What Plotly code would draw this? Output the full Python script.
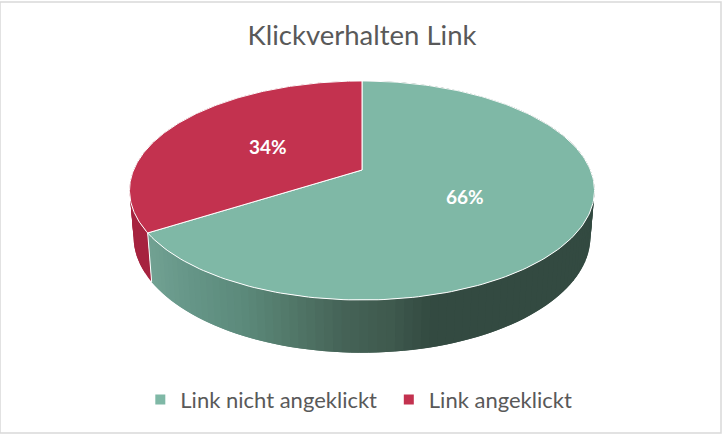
import numpy as np
import plotly.graph_objects as go

categories = ["Link nicht angeklickt", "Link angeklickt"]
values = [66, 34]
top_colors = ["#7fb8a6", "#c3324f"]
title = "Klickverhalten Link"

# perspective of the tilted disc, in pixels of the 724x436 page
apex_x, apex_y = 362, 170
s, b, k = 228.4, 105.7, 0.187
c, m = 46, -0.017

# side wall shading, by page x
shade_x = [150, 200, 250, 300, 350, 400, 440, 724]
shade_r = [114, 101, 92, 82, 70, 63, 51, 51]
shade_g = [162, 149, 138, 120, 100, 90, 74, 74]
shade_b = [147, 135, 123, 105, 88, 78, 65, 65]
red_wall = "#a6233f"


def project(frac, r=1.0, z=0.0):
    # frac = share of the circle, clockwise from 12 o'clock, z = -1 is the underside
    a = np.asarray(frac) * 2 * np.pi
    u, v = r * np.sin(a), r * np.cos(a)
    w = 1 + k * v + m * z
    return apex_x + s * u / w, apex_y - (b * v + c * z) / w


def shade(x):
    return "rgb(%d,%d,%d)" % (np.interp(x, shade_x, shade_r),
                              np.interp(x, shade_x, shade_g),
                              np.interp(x, shade_x, shade_b))


def add_wall(fig, f_start, f_end, n, color=None):
    # painted from f_end back to f_start, each strip runs under the one before it
    # so no seams show up between strips
    fracs = np.linspace(f_start, f_end, n)
    step = fracs[1] - fracs[0]
    for f0 in fracs[:-1][::-1]:
        ts = np.linspace(f0, min(f0 + 2 * step, f_end), 5)
        xt, yt = project(ts)
        xb, yb = project(ts, z=-1)
        col = color or shade(project(f0 + step / 2)[0])
        fig.add_trace(go.Scatter(x=list(xt) + list(xb[::-1]), y=list(yt) + list(yb[::-1]),
                                 mode="lines", fill="toself", fillcolor=col,
                                 line=dict(width=0), hoverinfo="skip", showlegend=False))


shares = np.array(values) / sum(values)
edges = np.concatenate([[0], np.cumsum(shares)])

fig = go.Figure()

# side wall: red part first, then the green part
add_wall(fig, edges[1], 1, 30, red_wall)
add_wall(fig, 0, edges[1], 130)

# seam between the two wall parts
xs, ys = project(np.array([edges[1], edges[1]]), z=np.array([0, -1]))
fig.add_trace(go.Scatter(x=xs, y=ys, mode="lines", line=dict(color="white", width=1),
                         hoverinfo="skip", showlegend=False))

# top faces
for i, cat in enumerate(categories):
    ts = np.linspace(edges[i], edges[i + 1], 200)
    xt, yt = project(ts)
    fig.add_trace(go.Scatter(x=[apex_x] + list(xt) + [apex_x], y=[apex_y] + list(yt) + [apex_y],
                             mode="lines", fill="toself", fillcolor=top_colors[i],
                             line=dict(color="white", width=1),
                             name=cat, hoverinfo="skip", showlegend=False))

# percent labels
for i in range(len(values)):
    lx, ly = project((edges[i] + edges[i + 1]) / 2, r=0.49)
    fig.add_annotation(x=float(lx), y=float(ly) + 0.5, text="<b>%d%%</b>" % values[i], showarrow=False,
                       font=dict(family="Lato", size=19, color="white"))

# legend entries
for i, cat in enumerate(categories):
    fig.add_trace(go.Scatter(x=[None], y=[None], mode="markers", name=cat,
                             marker=dict(symbol="square", size=10, color=top_colors[i])))

fig.update_xaxes(range=[0, 724], visible=False, fixedrange=True)
fig.update_yaxes(range=[436, 0], visible=False, fixedrange=True)
fig.add_shape(type="rect", x0=0, y0=2, x1=721, y1=433, line=dict(color="#d9d9d9", width=1.5))
fig.update_layout(
    width=724, height=436, margin=dict(l=0, r=0, t=0, b=0),
    paper_bgcolor="white", plot_bgcolor="white",
    title=dict(text=title, x=0.5, xanchor="center", y=0.92, yanchor="middle",
               font=dict(family="Lato", size=27.5, color="#595959")),
    legend=dict(orientation="h", x=0.1938, xanchor="left", y=0.083, yanchor="middle",
                entrywidth=203.5, entrywidthmode="pixels",
                font=dict(family="Lato", size=22, color="#595959"),
                bgcolor="rgba(0,0,0,0)", itemclick=False, itemdoubleclick=False),
)

# page body has a default margin, drop it so the figure fills the window
fig.write_html("out.html", config=dict(displayModeBar=False),
               post_script="document.body.style.margin='0';")
